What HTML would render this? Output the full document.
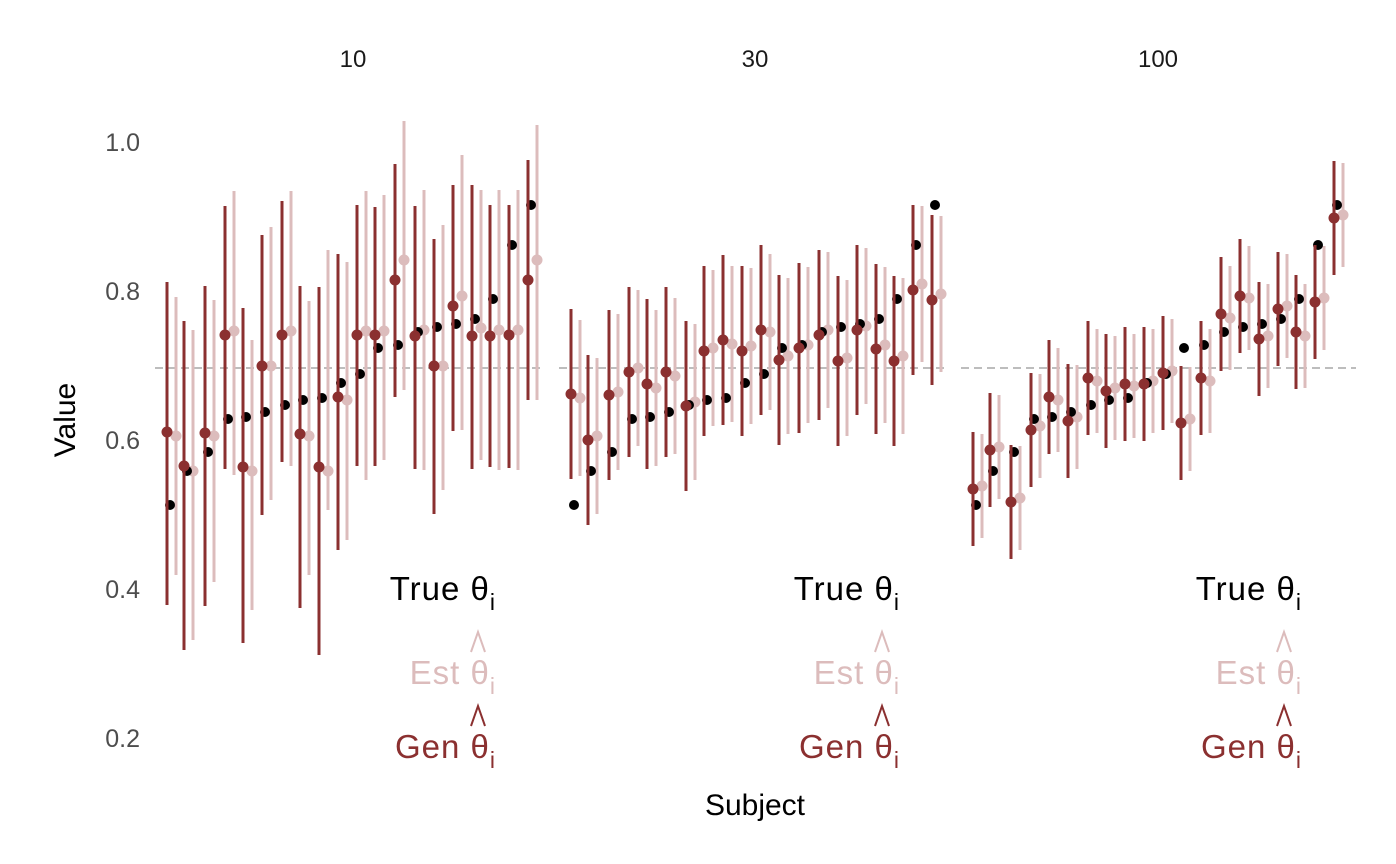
<!DOCTYPE html>
<html><head><meta charset="utf-8"><style>
body{margin:0;background:#fff;}
svg{display:block;font-family:"Liberation Sans",sans-serif;}
</style></head><body>
<svg id="s" width="1396" height="864" viewBox="0 0 1396 864" xmlns="http://www.w3.org/2000/svg">
<g font-size="25" fill="#4d4d4d" text-anchor="end">
<text x="140" y="151">1.0</text>
<text x="140" y="300">0.8</text>
<text x="140" y="449">0.6</text>
<text x="140" y="598">0.4</text>
<text x="140" y="747">0.2</text>
</g>
<g font-size="24" fill="#1a1a1a" text-anchor="middle">
<text x="353" y="67">10</text>
<text x="755" y="67">30</text>
<text x="1158" y="67">100</text>
</g>
<text x="75" y="420" font-size="30" text-anchor="middle" transform="rotate(-90 75 420)">Value</text>
<text x="755" y="815" font-size="30" text-anchor="middle">Subject</text>
<g id="plot"></g>
<g id="lab" font-size="33"></g>
</svg>
<script>
const NS="http://www.w3.org/2000/svg";
const plot=document.getElementById('plot'),lab=document.getElementById('lab');
function el(n,a,p){const e=document.createElementNS(NS,n);for(const k in a)e.setAttribute(k,a[k]);(p||plot).appendChild(e);return e;}
const trueY=[505,471,452,419,417,412,405,400,398,383,374,348,345,332,327,324,319,299,245,205];
const xs0=[170,187,208,228,246,265,285,303,322,341,360,378,398,418,437,456,475,493,512,531];
const offs=[0,404,806];
const G='#8b3030',E='#dcbcbc';
const p1=[[432,282,605,436,297,575],[466,321,650,471,330,640],[433,286,606,436,300,582],[335,206,469,331,191,475],[467,308,643,471,340,610],[366,235,515,366,227,500],[335,201,462,331,191,466],[434,286,608,436,301,575],[467,287,655,471,250,510],[397,254,550,400,262,540],[335,205,466,331,191,480],[335,207,466,331,195,460],[280,164,397,260,121,390],[336,206,469,330,190,470],[366,239,514,366,225,490],[306,185,431,296,155,430],[336,185,469,328,190,460],[336,205,467,330,190,470],[335,205,468,330,190,470],[280,160,400,260,125,400]];
const g2=[394,440,395,372,384,372,406,351,340,351,330,360,348,335,361,330,349,361,290,300];
const g3=[489,450,502,430,397,421,378,391,384,384,373,423,378,314,296,339,309,332,302,218];
const e2=[398,436,392,368,388,376,402,348,344,346,332,356,345,330,358,326,345,356,284,294];
const e3=[486,447,498,426,400,417,381,388,386,381,371,419,381,318,298,336,306,336,298,215];
for(let p=0;p<3;p++){
  el('line',{x1:155+offs[p],x2:545+offs[p]+(p==2?5:0),y1:368,y2:368,stroke:'#bdbdbd','stroke-width':2,'stroke-dasharray':'8,5'});
}
for(let p=0;p<3;p++){
  for(let i=0;i<20;i++){
    const x=xs0[i]+offs[p];
    let d;
    if(p==0)d=p1[i];
    else if(p==1)d=[g2[i],g2[i]-85,g2[i]+85,e2[i],e2[i]-78,e2[i]+78];
    else d=[g3[i],g3[i]-57,g3[i]+57,e3[i],e3[i]-52,e3[i]+52];
    el('line',{x1:x+6,x2:x+6,y1:d[4],y2:d[5],stroke:E,'stroke-width':3});
    el('circle',{cx:x+6,cy:d[3],r:5.5,fill:E});
    el('circle',{cx:x,cy:trueY[i],r:5,fill:'#000'});
    el('line',{x1:x-3,x2:x-3,y1:d[1],y2:d[2],stroke:G,'stroke-width':3});
    el('circle',{cx:x-3,cy:d[0],r:5.5,fill:G});
  }
}
for(let p=0;p<3;p++){
  const x=496+offs[p];
  const t=(y,c,pre,hx)=>{const tx=el('text',{x:x,y:y,fill:c,'text-anchor':'end','letter-spacing':'1'},lab);tx.textContent=pre+'θ';
    const s=el('tspan',{dy:10,'font-size':23},tx);s.textContent='i';
    if(hx){const cx=hx+offs[p];el('polyline',{points:`${cx-7},${y-32} ${cx},${y-52} ${cx+7},${y-32}`,fill:'none',stroke:c,'stroke-width':2},lab);}};
  t(600,'#000','True ',0);
  t(684,E,'Est ',478);
  t(758,G,'Gen ',478);
}
</script>
</body></html>
